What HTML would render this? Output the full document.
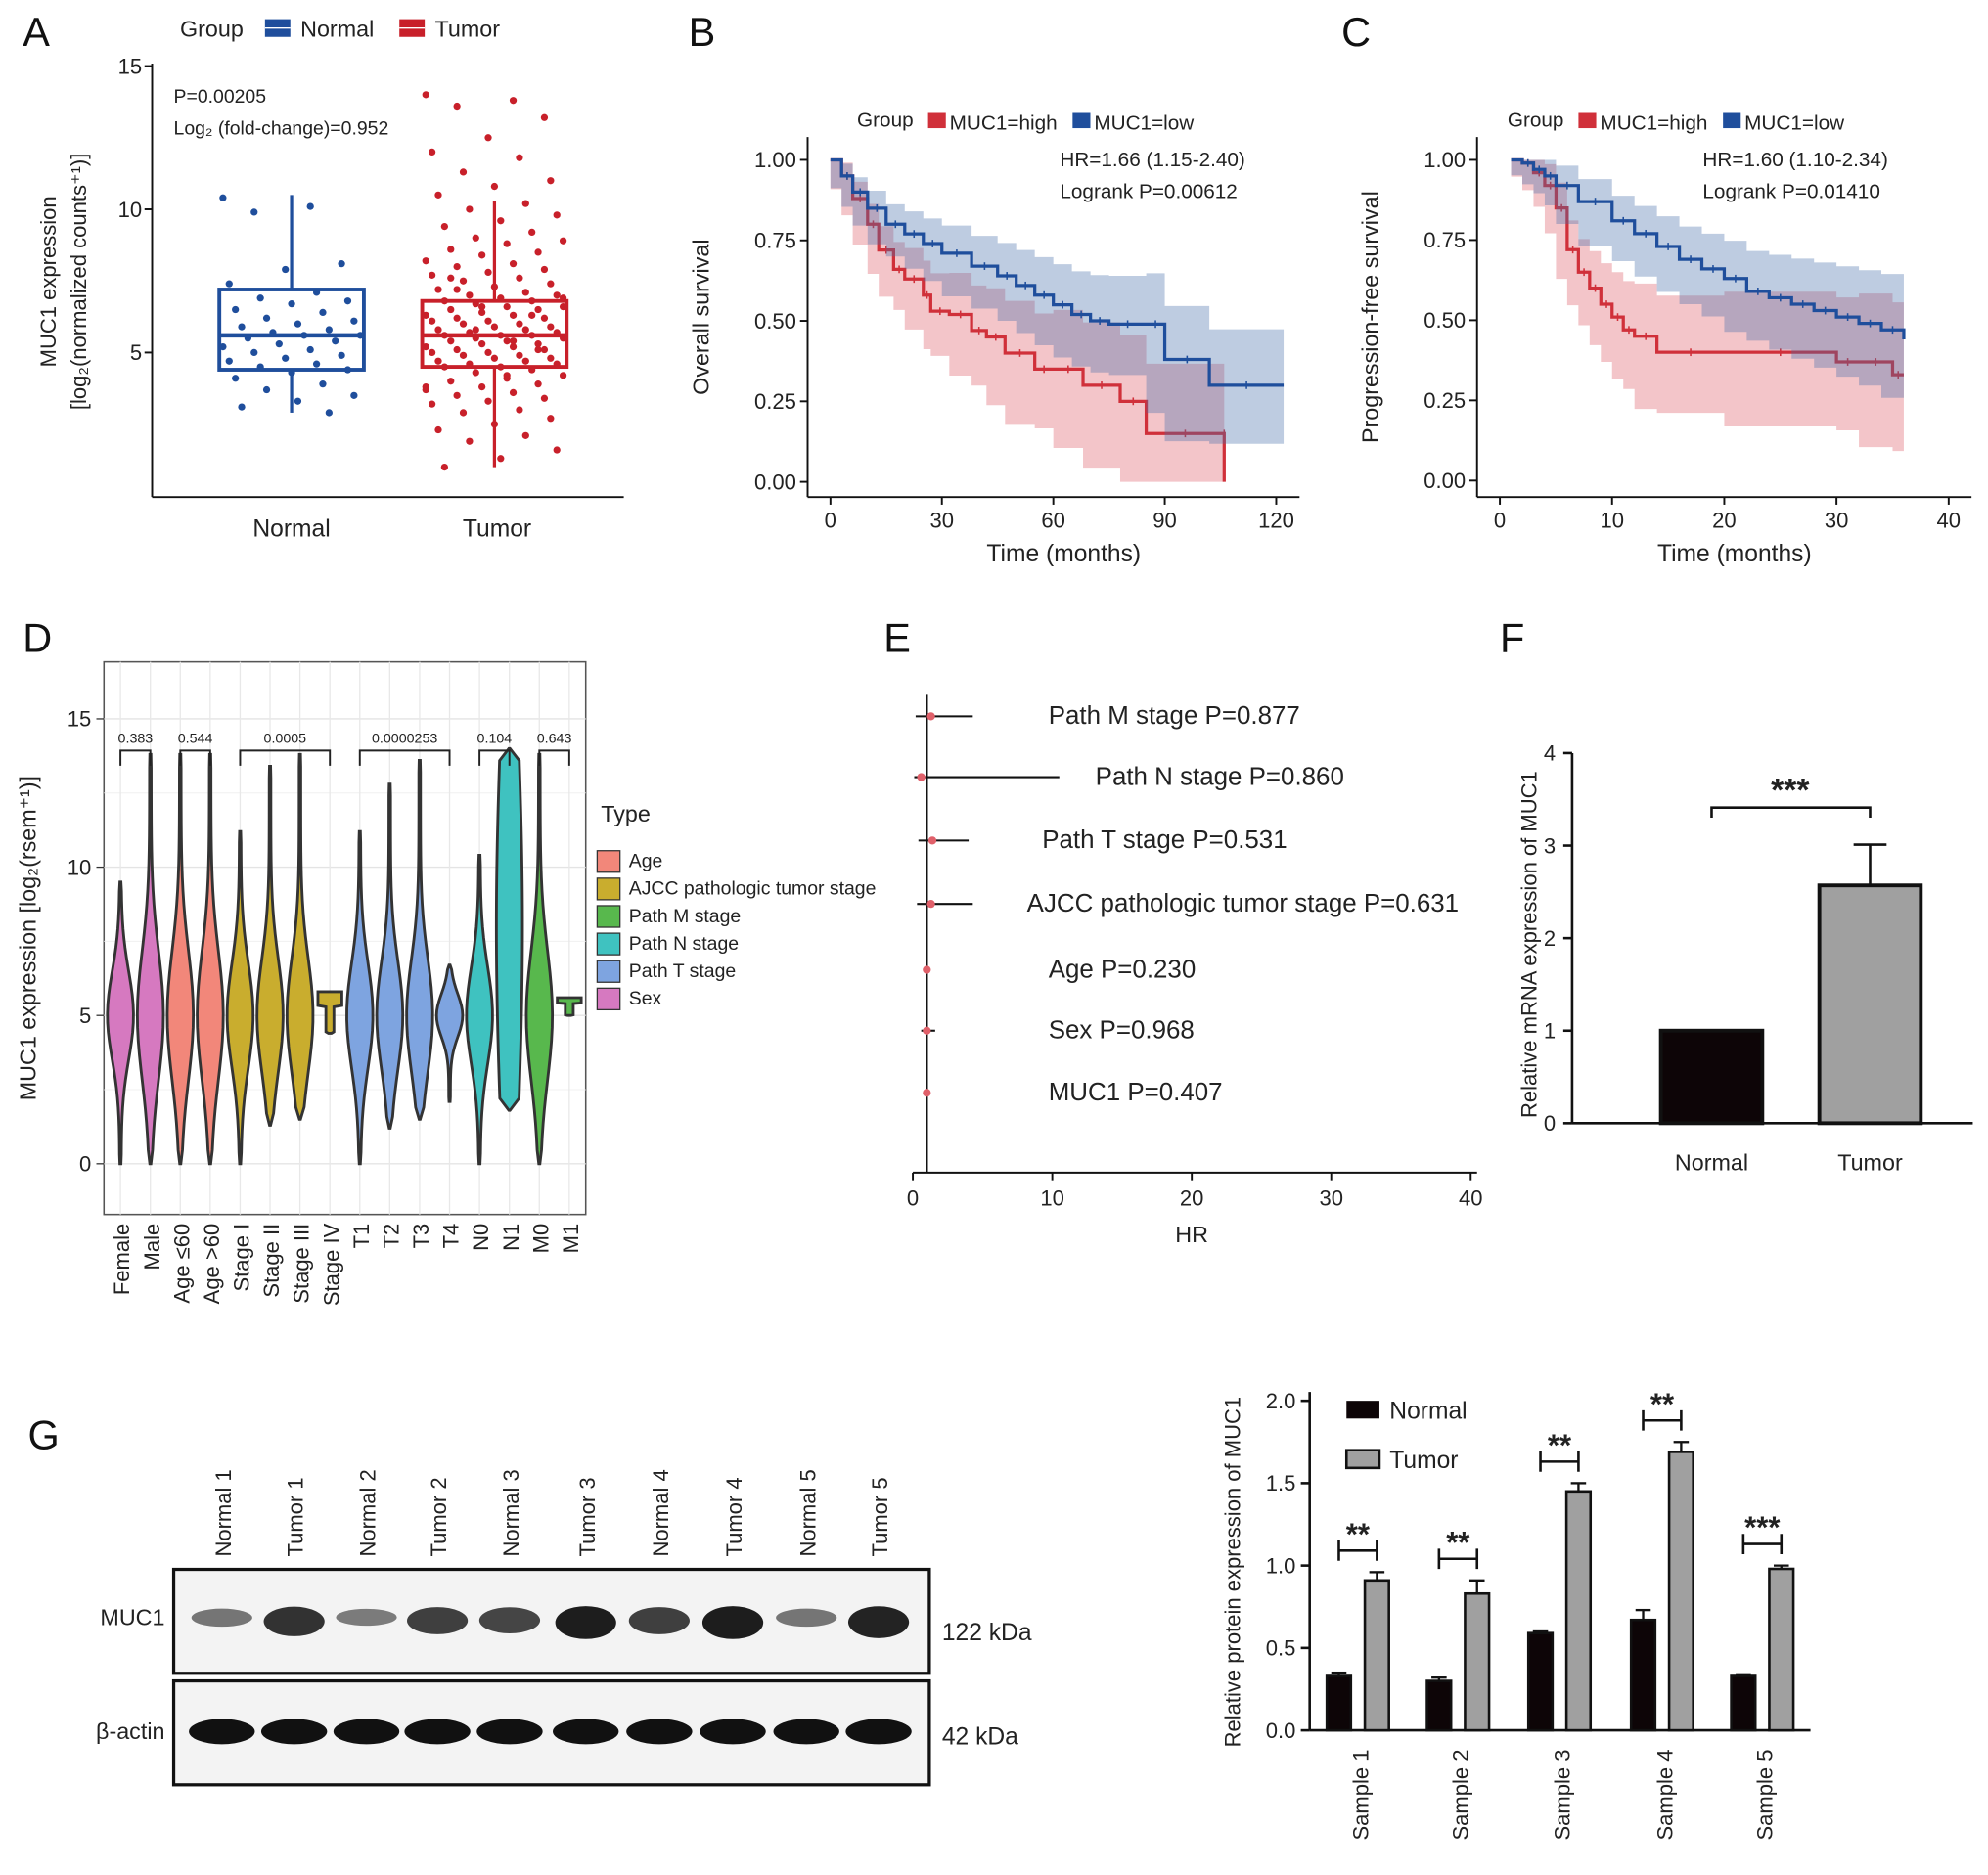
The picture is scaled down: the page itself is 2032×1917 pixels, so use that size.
<!DOCTYPE html>
<html><head><meta charset="utf-8"><style>
html,body{margin:0;padding:0;background:#fff;}
svg{display:block;font-family:"Liberation Sans",Arial,sans-serif;}
</style></head><body>
<svg id="fig" width="2032" height="1917" viewBox="0 0 1568 1479" xmlns="http://www.w3.org/2000/svg"></svg>
<script>
// ---------- data ----------
const aNormal=[10.4,10.1,9.9,8.1,7.9,7.4,7.1,6.9,6.8,6.7,6.5,6.4,6.2,6.1,6.0,5.9,5.8,5.7,5.6,5.6,5.5,5.4,5.3,5.2,5.1,5.0,4.9,4.8,4.7,4.6,4.5,4.4,4.3,4.1,3.9,3.7,3.5,3.3,3.1,2.9];
const aTumor=[14.0,13.8,13.6,13.2,12.5,12.0,11.8,11.3,11.0,10.8,10.5,10.2,10.0,9.8,9.6,9.4,9.2,9.0,8.9,8.8,8.6,8.5,8.4,8.2,8.1,8.0,7.9,7.8,7.7,7.6,7.5,7.4,7.3,7.2,7.1,7.0,7.0,6.9,6.8,6.8,6.7,6.6,6.6,6.5,6.5,6.4,6.3,6.3,6.2,6.2,6.1,6.1,6.0,6.0,5.9,5.9,5.8,5.8,5.7,5.7,5.6,5.6,5.6,5.5,5.5,5.4,5.4,5.3,5.3,5.2,5.2,5.1,5.1,5.0,5.0,4.9,4.9,4.8,4.8,4.7,4.7,4.6,4.6,4.5,4.5,4.4,4.3,4.2,4.1,4.0,3.9,3.8,3.7,3.6,3.5,3.4,3.3,3.2,3.0,2.9,2.7,2.5,2.3,2.1,1.9,1.6,1.3,1.0,6.3,5.8,6.9,4.2,7.6,5.1,6.6,3.8,5.4,7.2];
const aBoxes=[[2.9,4.4,5.6,7.2,10.5],[1.0,4.5,5.6,6.8,10.3]];
const bHighT=[0,3,6,10,13,17,20,25,27,32,38,42,47,55,60,68,78,85,106,106];
const bHighS=[1,0.95,0.88,0.80,0.72,0.66,0.63,0.58,0.53,0.52,0.47,0.45,0.40,0.35,0.35,0.30,0.25,0.15,0.15,0.0];
const bLowT=[0,3,6,10,15,20,25,30,38,45,50,55,60,65,70,75,85,90,102,122];
const bLowS=[1,0.95,0.90,0.85,0.80,0.77,0.74,0.71,0.67,0.64,0.61,0.58,0.55,0.52,0.50,0.49,0.49,0.38,0.30,0.30];
const cHighT=[1,2,3,4,5,6,7,8,9,10,11,12,14,20,30,32,35,36];
const cHighS=[1,0.99,0.96,0.92,0.85,0.72,0.65,0.60,0.55,0.51,0.47,0.45,0.40,0.40,0.37,0.37,0.33,0.33];
const cLowT=[1,2,3,4,5,7,10,12,14,16,18,20,22,24,26,28,30,32,34,36];
const cLowS=[1,0.99,0.97,0.95,0.92,0.87,0.81,0.77,0.73,0.69,0.66,0.63,0.59,0.57,0.55,0.53,0.51,0.49,0.47,0.44];
const dCats=["Female","Male","Age ≤60","Age >60","Stage I","Stage II","Stage III","Stage IV","T1","T2","T3","T4","N0","N1","M0","M1"];
const dMin=[0,0,0,0,0,1.3,1.5,4.4,0,1.2,1.5,2.1,0,1.8,0,5.0];
const dMax=[9.5,13.8,13.8,13.8,11.2,13.4,13.8,5.8,11.2,12.8,13.6,6.7,10.4,14.0,13.8,5.6];
const dMode=[5,5,5,5,5,5,5,5.3,5,5,5,5,5,8,5,5.4];
const dGroup=[5,5,0,0,1,1,1,1,4,4,4,4,3,3,2,2];
const dTypes=["Age","AJCC pathologic tumor stage","Path M stage","Path N stage","Path T stage","Sex"];
const dPvals=["0.383","0.544","0.0005","0.0000253","0.104","0.643"];
const dPairs=[[0,1],[2,3],[4,7],[8,11],[12,13],[14,15]];
const eLabels=["Path M stage P=0.877","Path N stage P=0.860","Path T stage P=0.531","AJCC pathologic tumor stage P=0.631","Age P=0.230","Sex P=0.968","MUC1 P=0.407"];
const eHR=[1.3,0.6,1.4,1.3,1.0,1.0,1.0];
const eLo=[0.2,0.1,0.4,0.3,0.9,0.6,0.9];
const eHi=[4.3,10.5,4.0,4.3,1.1,1.6,1.2];
const fCats=["Normal","Tumor"];
const fVals=[1.0,2.57];
const fErr=[0,0.44];
const hCats=["Sample 1","Sample 2","Sample 3","Sample 4","Sample 5"];
const hNormal=[0.33,0.30,0.59,0.67,0.33];
const hTumor=[0.91,0.83,1.45,1.69,0.98];
const hNErr=[0.02,0.02,0.01,0.06,0.01];
const hTErr=[0.05,0.08,0.05,0.06,0.02];
const hStars=["**","**","**","**","***"];
const gLanes=["Normal 1","Tumor 1","Normal 2","Tumor 2","Normal 3","Tumor 3","Normal 4","Tumor 4","Normal 5","Tumor 5"];
const gMuc=[0.35,0.85,0.3,0.75,0.7,1.0,0.75,1.0,0.35,0.95];

// ---------- helpers ----------
const S=document.getElementById('fig');const NS="http://www.w3.org/2000/svg";
function el(tag,attrs,parent,txt){const e=document.createElementNS(NS,tag);for(const k in attrs)e.setAttribute(k,attrs[k]);if(txt!==undefined)e.textContent=txt;(parent||S).appendChild(e);return e;}
function grp(name){const g=el('g',{});return g;}
function txt(p,x,y,s,size,extra){const a=Object.assign({x:x,y:y,'font-size':size||16,fill:'#222'},extra||{});return el('text',a,p,s);}
function line(p,x1,y1,x2,y2,st,w){return el('line',{x1,y1,x2,y2,stroke:st||'#111','stroke-width':w||1.5},p);}

[["A",18,36],["B",543,36],["C",1058,36],["D",18,514],["E",697,514],["F",1183,514],["G",22,1143]].forEach(l=>{const t=txt(S,l[1],l[2],l[0],32,{fill:'#111'});});

// ---------- Panel A ----------
(function(){
const g=grp('panel-a-boxplot');
const y=v=>391-v*22.6;
line(g,120,50,120,392);line(g,120,392,492,392);
[5,10,15].forEach(v=>{line(g,114,y(v),120,y(v));txt(g,112,y(v)+6,String(v),17,{'text-anchor':'end'});});
const cx=[230,390];
txt(g,230,423,'Normal',19,{'text-anchor':'middle'});txt(g,392,423,'Tumor',19,{'text-anchor':'middle'});
el('text',{transform:'translate(44,222) rotate(-90)','font-size':17,'text-anchor':'middle',fill:'#222'},g,'MUC1 expression');
el('text',{transform:'translate(68,222) rotate(-90)','font-size':17,'text-anchor':'middle',fill:'#222'},g,'[log₂(normalized counts⁺¹)]');
txt(g,137,81,'P=0.00205',15);txt(g,137,106,'Log₂ (fold-change)=0.952',15);
txt(g,142,29,'Group',18);
el('rect',{x:209,y:15,width:20,height:14,fill:'#1f4e9c'},g);line(g,209,22,229,22,'#fff',1);
txt(g,237,29,'Normal',18);
el('rect',{x:315,y:15,width:20,height:14,fill:'#c8202a'},g);line(g,315,22,335,22,'#fff',1);
txt(g,343,29,'Tumor',18);
const cols=['#1f4e9c','#c8202a'];const hw=[57,57];
[aNormal,aTumor].forEach((arr,i)=>{
 arr.forEach((v,j)=>{const jit=((j*37%23)/22-0.5)*2*hw[i]*0.95;const c=el('circle',{cx:cx[i]+jit,cy:y(v),r:2.8,fill:cols[i]},g);});
});
aBoxes.forEach((b,i)=>{const c=cols[i];
 line(g,cx[i],y(b[0]),cx[i],y(b[1]),c,2.5);line(g,cx[i],y(b[3]),cx[i],y(b[4]),c,2.5);
 const r=el('rect',{x:cx[i]-hw[i],y:y(b[3]),width:hw[i]*2,height:y(b[1])-y(b[3]),fill:'none',stroke:c,'stroke-width':3},g);
 
 line(g,cx[i]-hw[i],y(b[2]),cx[i]+hw[i],y(b[2]),c,3.5);});
})();

// ---------- KM helper ----------
function km(name,x0,xs,y0,ys,axisL,axisR,ticks,xlab,ylab,high,low,ann,legX){
const g=grp(name);const X=t=>x0+t*xs;const Y=s=>y0-s*ys;
line(g,axisL,108,axisL,392);line(g,axisL,392,axisR,392);
ticks.forEach(t=>{line(g,X(t),392,X(t),398);txt(g,X(t),416,String(t),17,{'text-anchor':'middle'});});
[0,0.25,0.5,0.75,1].forEach(s=>{line(g,axisL-6,Y(s),axisL,Y(s));txt(g,axisL-9,Y(s)+6,s.toFixed(2),17,{'text-anchor':'end'});});
txt(g,(axisL+axisR)/2+8,443,xlab,19,{'text-anchor':'middle'});
el('text',{transform:`translate(${axisL-78},250) rotate(-90)`,'font-size':18,'text-anchor':'middle',fill:'#222'},g,ylab);
[[high,'#d0303a','rgba(220,90,100,0.35)'],[low,'#1f4e9c','rgba(70,110,170,0.35)']].forEach((d,k)=>{
 const T=d[0][0],Sv=d[0][1];
 const band=i=>0.03+0.2*i/T.length*(k?0.8:1.1);
 let p='';
 for(let i=0;i<T.length;i++){p+=(i?`H${X(T[i])}V${Y(Sv[i])}`:`M${X(T[i])},${Y(Sv[i])}`);}
 const pts=[];for(let i=0;i<T.length;i++){const b=band(i);pts.push([T[i],Math.min(1,Sv[i]+b),Math.max(0,Sv[i]-b)]);}
 let bp=`M${X(pts[0][0])},${Y(pts[0][1])}`;for(let i=1;i<pts.length;i++)bp+=`H${X(pts[i][0])}V${Y(pts[i][1])}`;
 bp+=`V${Y(pts[pts.length-1][2])}`;for(let i=pts.length-1;i>0;i--)bp+=`V${Y(pts[i][2])}H${X(pts[i-1][0])}`;bp+='Z';
 const bd=el('path',{d:bp,fill:d[2],stroke:'none'},g);
 const ln=el('path',{d:p,fill:'none',stroke:d[1],'stroke-width':2.5},g);
 for(let i=1;i<T.length-1;i++){const xm=(X(T[i])+X(T[i+1]))/2;line(g,xm,Y(Sv[i])-3,xm,Y(Sv[i])+3,d[1],1.2);}
});
txt(g,ann[0],ann[1],ann[2],16);txt(g,ann[0],ann[1]+25,ann[3],16);
txt(g,legX,100,'Group',16);
el('rect',{x:legX+56,y:89,width:14,height:12,fill:'#d0303a'},g);txt(g,legX+73,102,'MUC1=high',16);
el('rect',{x:legX+170,y:89,width:14,height:12,fill:'#1f4e9c'},g);txt(g,legX+187,102,'MUC1=low',16);
}
km('panel-b-overall-survival',655,2.93,380,254,637,1025,[0,30,60,90,120],'Time (months)','Overall survival',[bHighT,bHighS],[bLowT,bLowS],[836,131,'HR=1.66 (1.15-2.40)','Logrank P=0.00612'],676);
km('panel-c-progression-free-survival',1183,8.85,379,253,1165,1555,[0,10,20,30,40],'Time (months)','Progression-free survival',[cHighT,cHighS],[cLowT,cLowS],[1343,131,'HR=1.60 (1.10-2.34)','Logrank P=0.01410'],1189);

// ---------- Panel D ----------
(function(){
const g=grp('panel-d-violin');
const Y=v=>918-v*23.4;const X=i=>95+i*23.6;
el('rect',{x:82,y:522,width:380,height:436,fill:'#fff',stroke:'#555','stroke-width':1.2},g);
[0,5,10,15].forEach(v=>{line(g,82,Y(v),462,Y(v),'#e4e4e4',1);line(g,76,Y(v),82,Y(v),'#333',1);txt(g,72,Y(v)+6,String(v),17,{'text-anchor':'end'});});
[2.5,7.5,12.5].forEach(v=>line(g,82,Y(v),462,Y(v),'#f0f0f0',0.8));
dCats.forEach((c,i)=>line(g,X(i),522,X(i),958,'#e8e8e8',1));
const cols=['#f2877a','#c9ad2e','#58b84d','#3fc2c0','#7ea4e0','#d679c0'];
dCats.forEach((c,i)=>{
 const mn=dMin[i],mx=dMax[i],md=dMode[i];const hw=10.5;const n=30;const L=[],R=[];
 for(let k=0;k<=n;k++){const v=mn+(mx-mn)*k/n;const sd=(mx-mn)/(i===13?1.2:4.5);let w=Math.exp(-Math.pow((v-md)/sd,2))*0.92+0.06;if(k===0||k===n)w=0.04;
  if(i===7||i===15){w=(v>md?0.9:0.3)*(k===0?0.4:1);}
  L.push(`${X(i)-w*hw},${Y(v)}`);R.unshift(`${X(i)+w*hw},${Y(v)}`);}
 const p=el('path',{d:'M'+L.concat(R).join('L')+'Z',fill:cols[dGroup[i]],stroke:'#333','stroke-width':2.2},g);
 
 el('text',{transform:`translate(${X(i)+7},965) rotate(-90)`,'font-size':17,'text-anchor':'end',fill:'#222'},g,c);
});
dPairs.forEach((pr,k)=>{const x1=X(pr[0]),x2=X(pr[1]);
 el('path',{d:`M${x1},604V592H${x2}V604`,fill:'none',stroke:'#222','stroke-width':1.5},g);
 txt(g,(x1+x2)/2,586,dPvals[k],11,{'text-anchor':'middle'});});
el('text',{transform:'translate(28,740) rotate(-90)','font-size':18,'text-anchor':'middle',fill:'#222'},g,'MUC1 expression [log₂(rsem⁺¹)]');
txt(g,474,648,'Type',18);
dTypes.forEach((t,k)=>{const yy=671+k*21.7;el('rect',{x:471,y:yy,width:18,height:17,fill:cols[k],stroke:'#333','stroke-width':1},g);txt(g,496,yy+13,t,15);});
})();

// ---------- Panel E ----------
(function(){
const g=grp('panel-e-forest');const X=v=>720+v*11;
line(g,720,925,1165,925);
[0,10,20,30,40].forEach(v=>{line(g,X(v),925,X(v),931);txt(g,X(v),951,String(v),17,{'text-anchor':'middle'});});
txt(g,940,980,'HR',18,{'text-anchor':'middle'});
line(g,X(1),548,X(1),925,'#111',1.8);
const ys=[565,613,663,713,765,813,862],lx=[827,864,822,810,827,827,827];
eLabels.forEach((l,k)=>{line(g,X(eLo[k]),ys[k],X(eHi[k]),ys[k],'#111',1.6);
 const c=el('circle',{cx:X(eHR[k]),cy:ys[k],r:3.2,fill:'#e0606a'},g);
 txt(g,lx[k],ys[k]+6,l,20);});
})();

// ---------- Panel F ----------
(function(){
const g=grp('panel-f-mrna-bar');const Y=v=>886-v*73;const cx=[1350,1475];
line(g,1240,594,1240,886,'#111',2);line(g,1240,886,1556,886,'#111',2);
[0,1,2,3,4].forEach(v=>{line(g,1233,Y(v),1240,Y(v),'#111',2);txt(g,1227,Y(v)+6,String(v),17,{'text-anchor':'end'});});
fCats.forEach((c,i)=>{const b=el('rect',{x:cx[i]-40,y:Y(fVals[i]),width:80,height:Y(0)-Y(fVals[i]),fill:i?'#a0a0a0':'#0d0507',stroke:'#111','stroke-width':3},g);
 
 if(fErr[i]){line(g,cx[i],Y(fVals[i]),cx[i],Y(fVals[i]+fErr[i]),'#111',2);line(g,cx[i]-13,Y(fVals[i]+fErr[i]),cx[i]+13,Y(fVals[i]+fErr[i]),'#111',2);}
 txt(g,cx[i],923,c,18,{'text-anchor':'middle'});});
el('path',{d:`M${cx[0]},645V637H${cx[1]}V645`,fill:'none',stroke:'#111','stroke-width':2},g);
txt(g,1412,632,'***',26,{'text-anchor':'middle','font-weight':'bold'});
el('text',{transform:'translate(1212,745) rotate(-90)','font-size':17,'text-anchor':'middle',fill:'#222'},g,'Relative mRNA expression of MUC1');
})();

// ---------- Panel G blot ----------
(function(){
const g=grp('panel-g-western-blot');const lx=[175,232,289,345,402,462,520,578,636,693];
gLanes.forEach((l,i)=>el('text',{transform:`translate(${lx[i]+7},1228) rotate(-90)`,'font-size':17,fill:'#222'},g,l));
el('rect',{x:137,y:1238,width:596,height:82,fill:'#f3f3f3',stroke:'#111','stroke-width':2.5},g);
el('rect',{x:137,y:1326,width:596,height:82,fill:'#f3f3f3',stroke:'#111','stroke-width':2.5},g);
gLanes.forEach((l,i)=>{const a=gMuc[i];
 el('ellipse',{cx:lx[i],cy:1274+a*6,rx:24,ry:4+a*9,fill:'#111','fill-opacity':0.35+0.6*a},g);
 el('ellipse',{cx:lx[i],cy:1366,rx:26,ry:10,fill:'#111'},g);});
txt(g,130,1282,'MUC1',18,{'text-anchor':'end'});txt(g,130,1372,'β-actin',18,{'text-anchor':'end'});
txt(g,743,1294,'122 kDa',19);txt(g,743,1376,'42 kDa',19);
})();

// ---------- Panel H ----------
(function(){
const g=grp('panel-g-protein-bar');const Y=v=>1365-v*130;const cx=[1073,1152,1232,1313,1392];
line(g,1033,1098,1033,1365,'#111',2);line(g,1033,1365,1428,1365,'#111',2);
[0,0.5,1,1.5,2].forEach(v=>{line(g,1026,Y(v),1033,Y(v),'#111',2);txt(g,1022,Y(v)+6,v.toFixed(1),17,{'text-anchor':'end'});});
hCats.forEach((c,i)=>{
 [[hNormal,hNErr,-17,'#0d0507'],[hTumor,hTErr,13,'#a0a0a0']].forEach((s,k)=>{const v=s[0][i],e=s[1][i],x=cx[i]+s[2];
  const b=el('rect',{x:x-9.5,y:Y(v),width:19,height:Y(0)-Y(v),fill:s[3],stroke:'#111','stroke-width':2},g);
  
  line(g,x,Y(v),x,Y(v+e),'#111',1.8);line(g,x-6,Y(v+e),x+6,Y(v+e),'#111',1.8);});
 const top=Y(hTumor[i]+hTErr[i])-17;
 el('path',{d:`M${cx[i]-17},${top-8}V${top+8}M${cx[i]-17},${top}H${cx[i]+13}M${cx[i]+13},${top-8}V${top+8}`,fill:'none',stroke:'#111','stroke-width':2},g);
 txt(g,cx[i]-2,top-5,hStars[i],24,{'text-anchor':'middle','font-weight':'bold'});
 el('text',{transform:`translate(${cx[i]+6},1380) rotate(-90)`,'font-size':17,'text-anchor':'end',fill:'#222'},g,c);
});
el('rect',{x:1062,y:1105,width:26,height:14,fill:'#0d0507'},g);txt(g,1096,1119,'Normal',19);
el('rect',{x:1062,y:1144,width:26,height:14,fill:'#a0a0a0',stroke:'#111','stroke-width':2},g);txt(g,1096,1158,'Tumor',19);
el('text',{transform:'translate(978,1240) rotate(-90)','font-size':17,'text-anchor':'middle',fill:'#222'},g,'Relative protein expression of MUC1');
})();
</script>
</body></html>
